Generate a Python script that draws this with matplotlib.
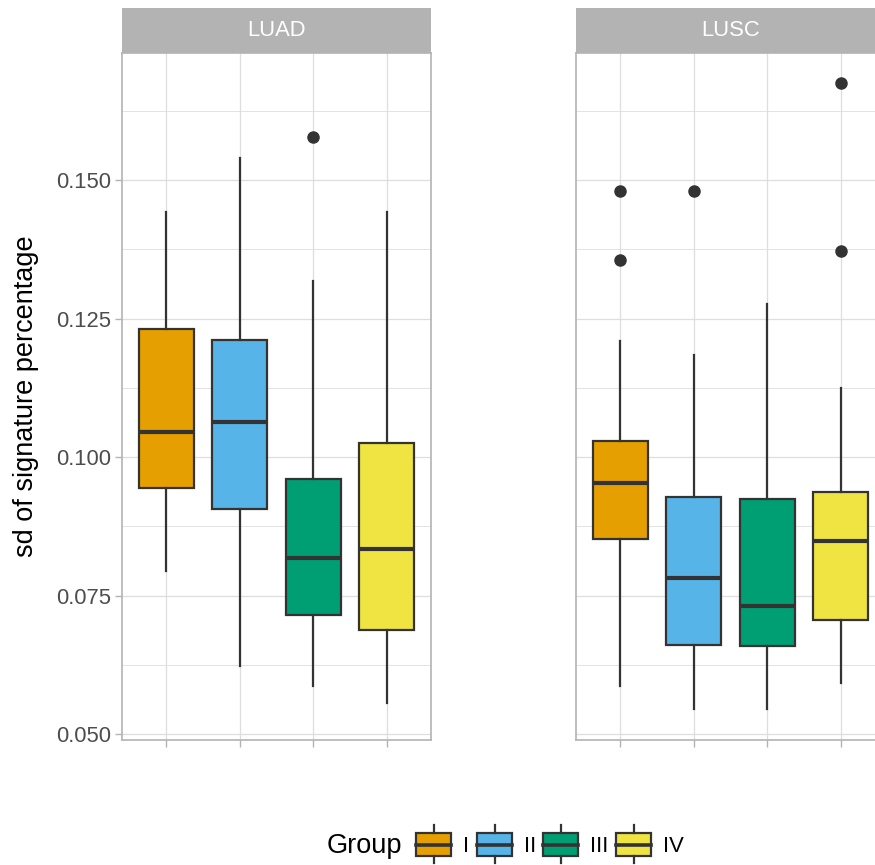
import matplotlib
matplotlib.use("Agg")
import matplotlib.pyplot as plt
from matplotlib.patches import Rectangle
import numpy as np

plt.rcParams['font.family'] = ['Liberation Sans', 'DejaVu Sans']

# data
groups = ['I', 'II', 'III', 'IV']
colors = ['#E69F00', '#56B4E9', '#009E73', '#F0E442']
panels = ['LUAD', 'LUSC']

luad_med = [0.1046, 0.1063, 0.0818, 0.0835]
luad_q1 = [0.0944, 0.0906, 0.0716, 0.0689]
luad_q3 = [0.1231, 0.1212, 0.0961, 0.1025]
luad_lo = [0.0794, 0.0623, 0.0587, 0.0556]
luad_hi = [0.1443, 0.1540, 0.1318, 0.1442]
luad_out = [[], [], [0.1578], []]

lusc_med = [0.0954, 0.0782, 0.0732, 0.0848]
lusc_q1 = [0.0853, 0.0662, 0.0659, 0.0706]
lusc_q3 = [0.1029, 0.0928, 0.0925, 0.0937]
lusc_lo = [0.0588, 0.0546, 0.0546, 0.0593]
lusc_hi = [0.1210, 0.1185, 0.1276, 0.1124]
lusc_out = [[0.1481, 0.1356], [0.1480], [], [0.1675, 0.1372]]

y_ticks = [0.050, 0.075, 0.100, 0.125, 0.150]
y_labels = ['0.050', '0.075', '0.100', '0.125', '0.150']

W, H = 875, 865
fig = plt.figure(figsize=(W / 100, H / 100), dpi=100)

dark = '#333333'
border = '#B3B3B3'
gridc = '#DEDEDE'


def make_stats(med, q1, q3, lo, hi, out):
    stats = []
    for i in range(len(med)):
        stats.append(dict(med=med[i], q1=q1[i], q3=q3[i], whislo=lo[i],
                          whishi=hi[i], fliers=out[i], label=groups[i]))
    return stats


all_stats = [make_stats(luad_med, luad_q1, luad_q3, luad_lo, luad_hi, luad_out),
             make_stats(lusc_med, lusc_q1, lusc_q3, lusc_lo, lusc_hi, lusc_out)]

panel_left = [122, 576]
panel_w = 309
panel_top, panel_bot = 53, 740
strip_top = 8

for k, name in enumerate(panels):
    ax = fig.add_axes([panel_left[k] / W, (H - panel_bot) / H,
                       panel_w / W, (panel_bot - panel_top) / H])
    bp = ax.bxp(all_stats[k], positions=[1, 2, 3, 4], widths=0.75,
                patch_artist=True, showcaps=False,
                boxprops=dict(edgecolor=dark, linewidth=1.6),
                whiskerprops=dict(color=dark, linewidth=1.6),
                medianprops=dict(color=dark, linewidth=3.0),
                flierprops=dict(marker='o', markerfacecolor=dark,
                                markeredgecolor=dark, markersize=8))
    for patch, c in zip(bp['boxes'], colors):
        patch.set_facecolor(c)

    ax.set_xlim(0.4, 4.6)
    ax.set_ylim(0.04897, 0.17292)
    ax.set_xticks([1, 2, 3, 4])
    ax.set_xticklabels([])
    ax.set_yticks(y_ticks)
    ax.set_yticks([0.0625, 0.0875, 0.1125, 0.1375, 0.1625], minor=True)
    ax.set_axisbelow(True)
    ax.grid(True, which='major', color=gridc, linewidth=0.9)
    ax.grid(True, which='minor', axis='y', color=gridc, linewidth=0.6)
    for s in ax.spines.values():
        s.set_color(border)
        s.set_linewidth(1.2)
    ax.tick_params(axis='x', length=5, width=1.0, color=border)
    ax.tick_params(axis='y', which='minor', length=0)
    if k == 0:
        ax.set_yticklabels(y_labels)
        ax.tick_params(axis='y', length=5, width=1.0, color=border,
                       labelsize=15.8, labelcolor='#4D4D4D', pad=3)
        ax.set_ylabel('sd of signature percentage', fontsize=19.5, labelpad=12)
    else:
        ax.set_yticklabels([])
        ax.tick_params(axis='y', length=0)

    # facet strip
    sax = fig.add_axes([panel_left[k] / W, (H - panel_top) / H,
                        panel_w / W, (panel_top - strip_top) / H])
    sax.set_facecolor(border)
    sax.set_xticks([])
    sax.set_yticks([])
    for s in sax.spines.values():
        s.set_visible(False)
    sax.text(0.5, 0.5, name, color='white', fontsize=15.8,
             ha='center', va='center', transform=sax.transAxes)

# legend at the bottom, drawn in pixel coordinates
lax = fig.add_axes([0, 0, 1, 1], facecolor='none')
lax.set_xlim(0, W)
lax.set_ylim(H, 0)
lax.axis('off')
lax.text(327, 846, 'Group', fontsize=19.5, ha='left', va='center')
key_x = [416, 477, 543, 616]
key_w = 35
for kx, c, g in zip(key_x, colors, groups):
    cx = kx + key_w / 2
    lax.plot([cx, cx], [825, 833], color=dark, linewidth=1.6)
    lax.plot([cx, cx], [856, 863], color=dark, linewidth=1.6)
    lax.add_patch(Rectangle((kx, 833), key_w, 23, facecolor=c,
                            edgecolor=dark, linewidth=1.6))
    lax.plot([kx, kx + key_w], [844.5, 844.5], color=dark, linewidth=2.6)
    lax.text(kx + key_w + 12, 846, g, fontsize=15.8, ha='left', va='center')

fig.savefig('out.png', dpi=100)
